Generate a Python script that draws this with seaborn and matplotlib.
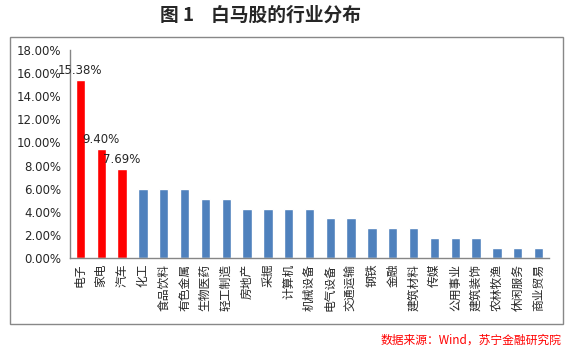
import matplotlib
matplotlib.use("Agg")
import matplotlib.pyplot as plt
import seaborn as sns
import pandas as pd
from matplotlib.patches import Rectangle

categories = ["电子", "家电", "汽车", "化工", "食品饮料", "有色金属", "生物医药", "轻工制造",
              "房地产", "采掘", "计算机", "机械设备", "电气设备", "交通运输", "钢铁", "金融",
              "建筑材料", "传媒", "公用事业", "建筑装饰", "农林牧渔", "休闲服务", "商业贸易"]
values = [15.38, 9.40, 7.69, 5.98, 5.98, 5.98, 5.13, 5.13,
          4.27, 4.27, 4.27, 4.27, 3.42, 3.42, 2.56, 2.56,
          2.56, 1.71, 1.71, 1.71, 0.85, 0.85, 0.85]
highlight_count = 3
yticks = [0, 2, 4, 6, 8, 10, 12, 14, 16, 18]

title = "图 1    白马股的行业分布"
source = "数据来源：Wind，苏宁金融研究院"

sns.set_style("white")
plt.rcParams['font.family'] = ['Noto Sans CJK SC', 'DejaVu Sans']

df = pd.DataFrame({"cat": categories, "val": values})
colors = ["#FF0000" if i < highlight_count else "#4F81BD" for i in range(len(categories))]

fig = plt.figure(figsize=(5.73, 3.5), dpi=100)
ax = fig.add_axes([70/573, 1-258/350, 479/573, 208/350])

sns.barplot(data=df, x="cat", y="val", hue="cat", palette=colors, legend=False,
            width=0.45, ax=ax, saturation=1)

ax.set_ylim(0, 18)
ax.set_xlim(-0.5, len(categories) - 0.5)
ax.set_yticks(yticks)
ax.set_yticklabels([f"{v:.2f}%" for v in yticks], fontsize=8.5, family=['DejaVu Sans'])
ax.set_xlabel("")
ax.set_ylabel("")
ax.set_xticks(range(len(categories)))
ax.set_xticklabels(categories, rotation=90, fontsize=8.5)
ax.tick_params(axis='x', length=0, pad=4)
# boundary ticks between categories
ax.set_xticks([i - 0.5 for i in range(len(categories) + 1)], minor=True)
ax.tick_params(axis='x', which='minor', length=4, color='#868686', direction='out')
ax.tick_params(axis='y', length=4, color='#868686', direction='out', pad=2)

for s in ['top', 'right']:
    ax.spines[s].set_visible(False)
for s in ['left', 'bottom']:
    ax.spines[s].set_color('#868686')
    ax.spines[s].set_linewidth(1)

for i in range(highlight_count):
    ax.text(i, values[i] + 0.3, f"{values[i]:.2f}%", ha='center', va='bottom',
            fontsize=8.5, family=['DejaVu Sans'])

fig.text(0.455, 1 - 15/350, title, ha='center', va='center', fontsize=13.5, fontweight='bold')
fig.patches.append(Rectangle((10/573, 1-324/350), 553/573, 287/350, transform=fig.transFigure,
                             fill=False, edgecolor='#888888', linewidth=1))
fig.text(561/573, 1 - 340/350, source, ha='right', va='center', fontsize=8.5,
         color='#FF0000', style='italic')

fig.savefig("out.png", dpi=100)
